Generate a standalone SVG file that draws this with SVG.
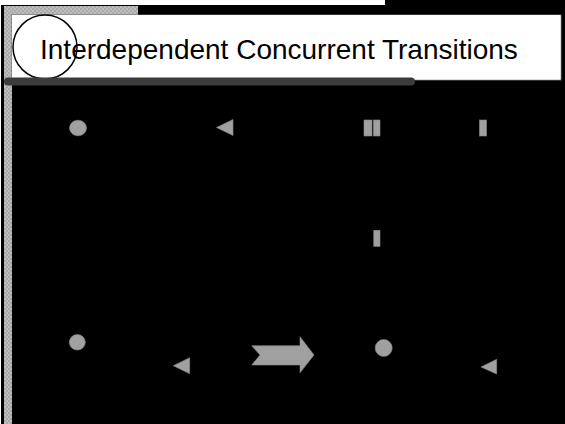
<svg xmlns="http://www.w3.org/2000/svg" width="565" height="424" viewBox="0 0 565 424">
  <defs>
    <pattern id="hatch" width="4" height="4" patternUnits="userSpaceOnUse">
      <rect width="4" height="4" fill="#bdbdbd"/>
      <rect width="2" height="2" fill="#a9a9a9"/>
      <rect x="2" y="2" width="2" height="2" fill="#a9a9a9"/>
    </pattern>
  </defs>
  <style>
    .shape { fill: #a0a0a0; stroke: #8a8a8a; stroke-width: 0.6; }
    .title { font-family: "Liberation Sans", Arial, sans-serif; font-size: 28px; fill: #000; }
  </style>
  <rect x="0" y="0" width="565" height="424" fill="#000"/>
  <rect x="0" y="0" width="385" height="5" fill="#fff"/>
  <rect x="0" y="0" width="1" height="424" fill="#fff"/>
  <g id="frame">
    <rect x="4" y="6" width="134" height="9" fill="url(#hatch)"/>
    <rect x="4" y="6" width="8" height="418" fill="url(#hatch)"/>
  </g>
  <g id="title">
    <rect x="12" y="15" width="549" height="65" fill="#fff" stroke="#6a6a6a" stroke-width="1"/>
    <rect x="12" y="15" width="548.5" height="64.5" fill="#fff"/>
    <circle cx="45" cy="47" r="32" fill="#fff" stroke="#000" stroke-width="1.5"/>
    <text class="title" x="40" y="58.5">Interdependent Concurrent Transitions</text>
    <rect x="4" y="77.5" width="411" height="8" rx="4" fill="#3c3c3c"/>
  </g>
  <g id="n1"><ellipse class="shape" cx="78" cy="128" rx="8.5" ry="7.8"/></g>
  <g id="n2"><polygon class="shape" points="216.5,127.5 233,119.5 233,135.5"/></g>
  <g id="n3">
    <rect class="shape" x="364" y="120" width="8" height="16"/>
    <rect class="shape" x="373.5" y="120" width="6.5" height="16"/>
  </g>
  <g id="n4"><rect class="shape" x="479.5" y="120" width="7" height="16"/></g>
  <g id="n5"><rect class="shape" x="373.8" y="230.3" width="6.2" height="16"/></g>
  <g id="n6"><ellipse class="shape" cx="77.3" cy="342.3" rx="8" ry="7.8"/></g>
  <g id="n7"><polygon class="shape" points="173.3,365.7 189.7,357.7 189.7,373.7"/></g>
  <g id="connectors">
    <polygon class="shape" points="251.7,345.7 300,345.7 300,336.7 314,355 300,372.7 300,365 251.7,365 260,355"/>
  </g>
  <g id="n8"><circle class="shape" cx="383.7" cy="348" r="8.5"/></g>
  <g id="n9"><polygon class="shape" points="481,367 496.7,359.3 496.7,374"/></g>
</svg>
